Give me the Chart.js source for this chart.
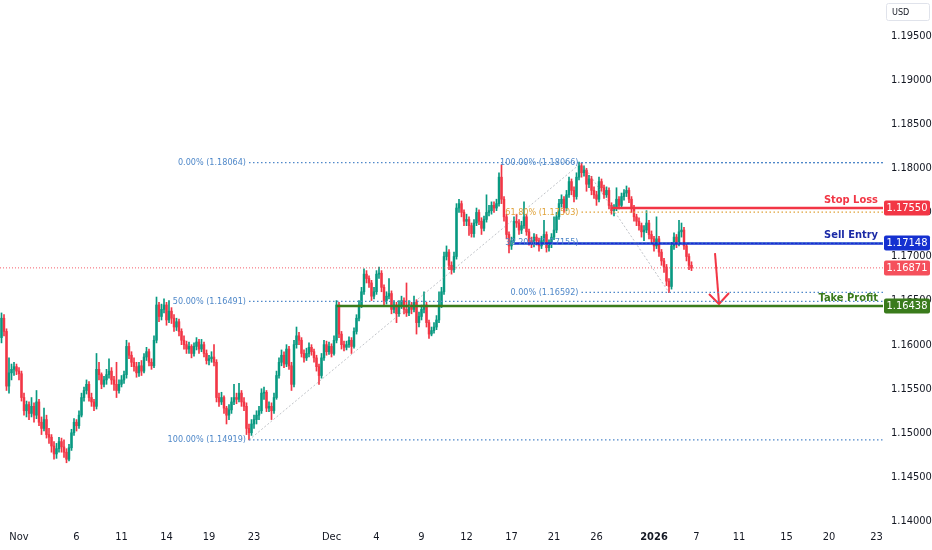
<!DOCTYPE html>
<html>
<head>
<meta charset="utf-8">
<title>EURUSD 4H</title>
<script src="https://cdn.jsdelivr.net/npm/chart.js@4.4.1/dist/chart.umd.min.js"></script>
<style>
  html, body { margin: 0; padding: 0; background: #fff; }
  #wrap { width: 932px; height: 550px; }
</style>
</head>
<body>
<div id="wrap"><canvas id="chart" width="932" height="550"></canvas></div>
<script>
// 4H candles, Nov 3 -> Jan 7
const opens = [
  1.1608,1.1630,1.1615,1.1553,1.1568,1.1572,1.1575,1.1570,1.1567,1.1540,
  1.1525,1.1532,1.1522,1.1530,1.1520,1.1535,1.1512,1.1505,1.1515,1.1498,
  1.1495,1.1485,1.1476,1.1482,1.1490,1.1484,1.1478,1.1470,1.1483,1.1500,
  1.1512,1.1508,1.1520,1.1540,1.1548,1.1555,1.1540,1.1535,1.1530,1.1572,
  1.1566,1.1555,1.1560,1.1566,1.1570,1.1560,1.1555,1.1548,1.1555,1.1560,
  1.1566,1.1598,1.1588,1.1580,1.1575,1.1568,1.1576,1.1570,1.1586,1.1592,
  1.1580,1.1576,1.1605,1.1645,1.1632,1.1640,1.1645,1.1628,1.1638,1.1630,
  1.1620,1.1626,1.1615,1.1605,1.1600,1.1595,1.1598,1.1590,1.1598,1.1603,
  1.1595,1.1600,1.1590,1.1582,1.1584,1.1586,1.1580,1.1540,1.1535,1.1540,
  1.1528,1.1520,1.1526,1.1535,1.1540,1.1538,1.1545,1.1535,1.1530,1.1505,
  1.1500,1.1510,1.1515,1.1520,1.1525,1.1545,1.1546,1.1528,1.1530,1.1525,
  1.1540,1.1565,1.1580,1.1588,1.1578,1.1595,1.1576,1.1555,1.1600,1.1610,
  1.1605,1.1590,1.1585,1.1590,1.1597,1.1592,1.1585,1.1575,1.1565,1.1585,
  1.1600,1.1592,1.1598,1.1590,1.1605,1.1645,1.1612,1.1600,1.1597,1.1600,
  1.1605,1.1598,1.1615,1.1630,1.1645,1.1660,1.1680,1.1675,1.1670,1.1655,
  1.1660,1.1680,1.1681,1.1665,1.1650,1.1655,1.1658,1.1640,1.1645,1.1635,
  1.1645,1.1650,1.1640,1.1636,1.1645,1.1640,1.1648,1.1625,1.1632,1.1640,
  1.1645,1.1625,1.1612,1.1616,1.1620,1.1628,1.1645,1.1660,1.1700,1.1705,
  1.1690,1.1685,1.1700,1.1755,1.1760,1.1750,1.1740,1.1742,1.1735,1.1726,
  1.1738,1.1750,1.1740,1.1732,1.1742,1.1750,1.1752,1.1758,1.1755,1.1760,
  1.1790,1.1765,1.1745,1.1725,1.1712,1.1718,1.1740,1.1738,1.1730,1.1735,
  1.1745,1.1728,1.1718,1.1715,1.1722,1.1718,1.1712,1.1718,1.1725,1.1710,
  1.1714,1.1722,1.1730,1.1745,1.1760,1.1765,1.1755,1.1770,1.1785,1.1775,
  1.1768,1.1790,1.1803,1.1795,1.1798,1.1782,1.1788,1.1775,1.1770,1.1765,
  1.1785,1.1778,1.1770,1.1775,1.1758,1.1752,1.1755,1.1765,1.1758,1.1768,
  1.1772,1.1775,1.1765,1.1755,1.1745,1.1740,1.1735,1.1728,1.1730,1.1738,
  1.1725,1.1720,1.1712,1.1720,1.1705,1.1695,1.1688,1.1672,1.1666,1.1712,
  1.1722,1.1715,1.1728,1.1730,1.1712,1.1700,1.1690
];
const highs = [
  1.1636,1.1634,1.1618,1.1585,1.1578,1.1580,1.1578,1.1574,1.1570,1.1545,
  1.1536,1.1535,1.1540,1.1534,1.1548,1.1538,1.1518,1.1528,1.1520,1.1505,
  1.1498,1.1490,1.1488,1.1495,1.1494,1.1492,1.1482,1.1487,1.1504,1.1516,
  1.1515,1.1525,1.1545,1.1552,1.1560,1.1558,1.1545,1.1538,1.1590,1.1580,
  1.1568,1.1564,1.1572,1.1584,1.1574,1.1564,1.1580,1.1560,1.1565,1.1570,
  1.1605,1.1602,1.1592,1.1585,1.1580,1.1580,1.1582,1.1590,1.1597,1.1595,
  1.1584,1.1610,1.1654,1.1648,1.1646,1.1652,1.1648,1.1650,1.1642,1.1634,
  1.1630,1.1629,1.1618,1.1610,1.1604,1.1603,1.1600,1.1602,1.1608,1.1606,
  1.1606,1.1603,1.1594,1.1588,1.1592,1.1600,1.1583,1.1545,1.1546,1.1542,
  1.1530,1.1532,1.1540,1.1555,1.1545,1.1556,1.1548,1.1540,1.1534,1.1510,
  1.1515,1.1520,1.1525,1.1530,1.1550,1.1552,1.1548,1.1535,1.1534,1.1545,
  1.1570,1.1585,1.1594,1.1592,1.1600,1.1598,1.1580,1.1605,1.1620,1.1614,
  1.1608,1.1594,1.1596,1.1602,1.1600,1.1595,1.1588,1.1578,1.1590,1.1605,
  1.1604,1.1603,1.1601,1.1610,1.1650,1.1648,1.1615,1.1604,1.1604,1.1609,
  1.1608,1.1619,1.1634,1.1650,1.1665,1.1686,1.1684,1.1678,1.1673,1.1665,
  1.1684,1.1688,1.1684,1.1668,1.1660,1.1675,1.1661,1.1650,1.1648,1.1650,
  1.1655,1.1653,1.1670,1.1650,1.1648,1.1655,1.1651,1.1637,1.1645,1.1660,
  1.1648,1.1628,1.1620,1.1625,1.1633,1.1660,1.1665,1.1705,1.1712,1.1708,
  1.1694,1.1705,1.1760,1.1765,1.1763,1.1753,1.1748,1.1745,1.1738,1.1742,
  1.1755,1.1753,1.1744,1.1746,1.1770,1.1758,1.1762,1.1762,1.1765,1.1795,
  1.1804,1.1768,1.1748,1.1728,1.1722,1.1745,1.1748,1.1742,1.1740,1.1762,
  1.1748,1.1731,1.1722,1.1726,1.1725,1.1721,1.1723,1.1741,1.1728,1.1719,
  1.1726,1.1745,1.1750,1.1765,1.1770,1.1768,1.1775,1.1790,1.1788,1.1779,
  1.1795,1.1807,1.1806,1.1803,1.1800,1.1792,1.1791,1.1779,1.1774,1.1790,
  1.1788,1.1781,1.1779,1.1778,1.1761,1.1759,1.1778,1.1768,1.1772,1.1776,
  1.1780,1.1778,1.1768,1.1758,1.1748,1.1744,1.1738,1.1735,1.1752,1.1741,
  1.1729,1.1723,1.1745,1.1723,1.1708,1.1698,1.1691,1.1675,1.1716,1.1727,
  1.1725,1.1741,1.1738,1.1733,1.1715,1.1703,1.1694
];
const lows = [
  1.1602,1.1610,1.1548,1.1545,1.1560,1.1565,1.1566,1.1560,1.1536,1.1520,
  1.1518,1.1515,1.1518,1.1512,1.1516,1.1508,1.1498,1.1502,1.1494,1.1488,
  1.1478,1.1470,1.1471,1.1478,1.1478,1.1472,1.1466,1.1468,1.1480,1.1497,
  1.1502,1.1505,1.1518,1.1536,1.1544,1.1536,1.1530,1.1525,1.1527,1.1560,
  1.1550,1.1552,1.1555,1.1562,1.1555,1.1548,1.1540,1.1545,1.1552,1.1556,
  1.1562,1.1584,1.1575,1.1570,1.1563,1.1564,1.1565,1.1568,1.1582,1.1576,
  1.1572,1.1574,1.1602,1.1626,1.1628,1.1636,1.1622,1.1625,1.1624,1.1615,
  1.1616,1.1610,1.1600,1.1595,1.1590,1.1590,1.1585,1.1587,1.1594,1.1590,
  1.1592,1.1586,1.1578,1.1577,1.1580,1.1576,1.1535,1.1530,1.1532,1.1522,
  1.1510,1.1515,1.1522,1.1532,1.1533,1.1535,1.1530,1.1525,1.1498,1.1492,
  1.1497,1.1505,1.1510,1.1515,1.1522,1.1538,1.1524,1.1524,1.1515,1.1522,
  1.1538,1.1562,1.1576,1.1574,1.1575,1.1572,1.1548,1.1552,1.1596,1.1600,
  1.1586,1.1580,1.1582,1.1586,1.1588,1.1580,1.1570,1.1555,1.1562,1.1582,
  1.1588,1.1589,1.1586,1.1588,1.1602,1.1608,1.1595,1.1593,1.1594,1.1597,
  1.1590,1.1596,1.1612,1.1627,1.1642,1.1657,1.1670,1.1665,1.1650,1.1652,
  1.1657,1.1675,1.1660,1.1645,1.1646,1.1652,1.1635,1.1636,1.1625,1.1632,
  1.1641,1.1635,1.1632,1.1633,1.1635,1.1637,1.1612,1.1620,1.1628,1.1636,
  1.1620,1.1607,1.1610,1.1613,1.1617,1.1625,1.1642,1.1657,1.1696,1.1685,
  1.1680,1.1682,1.1697,1.1750,1.1745,1.1735,1.1735,1.1724,1.1722,1.1722,
  1.1735,1.1736,1.1725,1.1729,1.1739,1.1746,1.1748,1.1750,1.1752,1.1757,
  1.1760,1.1740,1.1720,1.1704,1.1708,1.1715,1.1733,1.1725,1.1726,1.1732,
  1.1724,1.1713,1.1710,1.1711,1.1713,1.1706,1.1709,1.1715,1.1705,1.1706,
  1.1710,1.1719,1.1727,1.1742,1.1756,1.1750,1.1752,1.1767,1.1770,1.1762,
  1.1765,1.1787,1.1790,1.1791,1.1774,1.1778,1.1770,1.1766,1.1758,1.1762,
  1.1774,1.1766,1.1767,1.1754,1.1748,1.1746,1.1752,1.1754,1.1755,1.1764,
  1.1768,1.1761,1.1750,1.1740,1.1735,1.1730,1.1722,1.1718,1.1727,1.1720,
  1.1715,1.1706,1.1709,1.1700,1.1690,1.1682,1.1667,1.1659,1.1663,1.1708,
  1.1710,1.1712,1.1722,1.1708,1.1695,1.1685,1.1684
];
const closes = [
  1.1630,1.1615,1.1553,1.1568,1.1572,1.1575,1.1570,1.1567,1.1540,1.1525,
  1.1532,1.1522,1.1530,1.1520,1.1535,1.1512,1.1505,1.1515,1.1498,1.1495,
  1.1485,1.1476,1.1482,1.1490,1.1484,1.1478,1.1470,1.1483,1.1500,1.1512,
  1.1508,1.1520,1.1540,1.1548,1.1555,1.1540,1.1535,1.1530,1.1572,1.1566,
  1.1555,1.1560,1.1566,1.1570,1.1560,1.1555,1.1548,1.1555,1.1560,1.1566,
  1.1598,1.1588,1.1580,1.1575,1.1568,1.1576,1.1570,1.1586,1.1592,1.1580,
  1.1576,1.1605,1.1645,1.1632,1.1640,1.1645,1.1628,1.1638,1.1630,1.1620,
  1.1626,1.1615,1.1605,1.1600,1.1595,1.1598,1.1590,1.1598,1.1603,1.1595,
  1.1600,1.1590,1.1582,1.1584,1.1586,1.1580,1.1540,1.1535,1.1540,1.1528,
  1.1520,1.1526,1.1535,1.1540,1.1538,1.1545,1.1535,1.1530,1.1505,1.1500,
  1.1510,1.1515,1.1520,1.1525,1.1545,1.1546,1.1528,1.1530,1.1525,1.1540,
  1.1565,1.1580,1.1588,1.1578,1.1595,1.1576,1.1555,1.1600,1.1610,1.1605,
  1.1590,1.1585,1.1590,1.1597,1.1592,1.1585,1.1575,1.1565,1.1585,1.1600,
  1.1592,1.1598,1.1590,1.1605,1.1645,1.1612,1.1600,1.1597,1.1600,1.1605,
  1.1598,1.1615,1.1630,1.1645,1.1660,1.1680,1.1675,1.1670,1.1655,1.1660,
  1.1680,1.1681,1.1665,1.1650,1.1655,1.1658,1.1640,1.1645,1.1635,1.1645,
  1.1650,1.1640,1.1636,1.1645,1.1640,1.1648,1.1625,1.1632,1.1640,1.1645,
  1.1625,1.1612,1.1616,1.1620,1.1628,1.1645,1.1660,1.1700,1.1705,1.1690,
  1.1685,1.1700,1.1755,1.1760,1.1750,1.1740,1.1742,1.1735,1.1726,1.1738,
  1.1750,1.1740,1.1732,1.1742,1.1750,1.1752,1.1758,1.1755,1.1760,1.1790,
  1.1765,1.1745,1.1725,1.1712,1.1718,1.1740,1.1738,1.1730,1.1735,1.1745,
  1.1728,1.1718,1.1715,1.1722,1.1718,1.1712,1.1718,1.1725,1.1710,1.1714,
  1.1722,1.1730,1.1745,1.1760,1.1765,1.1755,1.1770,1.1785,1.1775,1.1768,
  1.1790,1.1803,1.1795,1.1798,1.1782,1.1788,1.1775,1.1770,1.1765,1.1785,
  1.1778,1.1770,1.1775,1.1758,1.1752,1.1755,1.1765,1.1758,1.1768,1.1772,
  1.1775,1.1765,1.1755,1.1745,1.1740,1.1735,1.1728,1.1730,1.1738,1.1725,
  1.1720,1.1712,1.1720,1.1705,1.1695,1.1688,1.1672,1.1666,1.1712,1.1722,
  1.1715,1.1728,1.1730,1.1712,1.1700,1.1690,1.1687
];

// x axis: candle index where each date label sits
const dateTickIdx = [7, 30, 48, 66, 83, 101, 132, 150, 168, 186, 204, 221, 238, 261, 278, 295, 314, 331, 350];
const dateTickLabels = ['Nov', '6', '11', '14', '19', '23', 'Dec', '4', '9', '12', '17', '21', '26', '2026', '7', '11', '15', '20', '23'];
const priceTicks = [1.140, 1.145, 1.150, 1.155, 1.160, 1.165, 1.170, 1.175, 1.180, 1.185, 1.190, 1.195];

// fibonacci drawings
const fib1From = 99;
const fib1Levels = [1.18064, 1.16491, 1.14919];
const fib1Labels = ['0.00% (1.18064)', '50.00% (1.16491)', '100.00% (1.14919)'];
const fib1Trend = [{ x: 99, y: 1.14919 }, { x: 232, y: 1.18064 }];
const fib2From = 232;
const fib2Levels = [1.18066, 1.17503, 1.17155, 1.16592];
const fib2Labels = ['100.00% (1.18066)', '61.80% (1.17503)', '38.20% (1.17155)', '0.00% (1.16592)'];
const fib2Trend = [{ x: 232, y: 1.18066 }, { x: 267, y: 1.16592 }];

// trade plan
const tradeNames = ['Stop Loss', 'Sell Entry', 'Take Profit'];
const tradeLevels = [1.17550, 1.17148, 1.16438];
const tradeFrom = [244, 205, 134];
const lastPrice = 1.16871;
const arrowShaft = [{ x: 285.4, y: 1.17039 }, { x: 287, y: 1.16472 }];
const arrowHead = [{ x: 283, y: 1.16574 }, { x: 287, y: 1.16461 }, { x: 291, y: 1.16586 }];

const X_MIN = -0.6, X_MAX = 352.6;
const Y_MIN = 1.1392, Y_MAX = 1.1991;

const FONT = "'Liberation Sans Narrow', 'DejaVu Sans Condensed', 'Roboto', sans-serif";
const UP = '#089981', DOWN = '#f23645';
const FIB_BLUE = '#4f88c9', FIB_ORANGE = '#e0a33a';
const tradeColors = ['#f23645', '#1530d0', '#3a7b1c'];
const tradeText = ['#f23645', '#1b2aa6', '#3a7b1c'];

const idx = closes.map((_, i) => i);
const candleColors = idx.map(i => closes[i] >= opens[i] ? UP : DOWN);

function hline(y, from, color, width, dash) {
    return {
        type: 'line',
        data: [{ x: from, y: y }, { x: X_MAX, y: y }],
        borderColor: color,
        borderWidth: width,
        borderDash: dash || [],
        pointRadius: 0,
        tension: 0,
        order: 0
    };
}

function path(points, color, width, dash) {
    return {
        type: 'line',
        data: points,
        borderColor: color,
        borderWidth: width,
        borderDash: dash || [],
        pointRadius: 0,
        tension: 0,
        order: 0
    };
}

const levelSets = [];
fib1Levels.forEach(l => levelSets.push(hline(l, fib1From, FIB_BLUE, 1.2, [1.5, 2.5])));
fib2Levels.forEach((l, i) => levelSets.push(hline(l, fib2From, i === 1 ? FIB_ORANGE : FIB_BLUE, 1.2, [1.5, 2.5])));
levelSets.push(path(fib1Trend, 'rgba(140,145,155,0.55)', 1, [2, 2]));
levelSets.push(path(fib2Trend, 'rgba(140,145,155,0.55)', 1, [2, 2]));
levelSets.push(hline(lastPrice, X_MIN, 'rgba(242,54,69,0.8)', 1, [1, 2]));
tradeLevels.forEach((l, i) => levelSets.push(hline(l, tradeFrom[i], tradeColors[i], 2.5)));
levelSets.push(path(arrowShaft, DOWN, 2));
levelSets.push(path(arrowHead, DOWN, 2));

// Text, price tags and the currency box
const overlay = {
    id: 'overlay',
    afterDraw(chart) {
        const ctx = chart.ctx;
        const xs = chart.scales.x, ys = chart.scales.y;
        const area = chart.chartArea;
        ctx.save();

        ctx.textBaseline = 'middle';
        ctx.textAlign = 'right';
        ctx.font = '9px ' + FONT;
        fib1Levels.forEach((l, i) => {
            ctx.fillStyle = FIB_BLUE;
            ctx.fillText(fib1Labels[i], xs.getPixelForValue(fib1From) - 3, ys.getPixelForValue(l));
        });
        fib2Levels.forEach((l, i) => {
            ctx.fillStyle = i === 1 ? FIB_ORANGE : FIB_BLUE;
            ctx.fillText(fib2Labels[i], xs.getPixelForValue(fib2From) - 3, ys.getPixelForValue(l));
        });

        ctx.font = 'bold 11px ' + FONT;
        ctx.textBaseline = 'alphabetic';
        tradeLevels.forEach((l, i) => {
            ctx.fillStyle = tradeText[i];
            ctx.fillText(tradeNames[i], area.right - 5, ys.getPixelForValue(l) - 5);
        });

        // price tags on the axis
        const tag = (value, color) => {
            const y = Math.round(ys.getPixelForValue(value));
            ctx.fillStyle = color;
            ctx.beginPath();
            ctx.roundRect(area.right + 1, y - 7.5, 46, 15, 2);
            ctx.fill();
            ctx.fillStyle = '#fff';
            ctx.font = '11px ' + FONT;
            ctx.textAlign = 'center';
            ctx.textBaseline = 'middle';
            ctx.fillText(value.toFixed(5), area.right + 24, y + 0.5);
        };
        tag(lastPrice, '#f5505c');
        tradeLevels.forEach((l, i) => tag(l, tradeColors[i]));

        // currency label
        ctx.fillStyle = '#fff';
        ctx.strokeStyle = '#e0e3eb';
        ctx.lineWidth = 1;
        ctx.beginPath();
        ctx.roundRect(area.right + 3.5, 3.5, 43, 17, 2);
        ctx.fill();
        ctx.stroke();
        ctx.fillStyle = '#131722';
        ctx.font = '9px ' + FONT;
        ctx.textAlign = 'left';
        ctx.textBaseline = 'middle';
        ctx.fillText('USD', area.right + 9, 12.5);
        ctx.restore();
    }
};

new Chart(document.getElementById('chart'), {
    type: 'bar',
    data: {
        datasets: [
            {
                label: 'wicks',
                data: idx.map(i => ({ x: i, y: [lows[i], highs[i]] })),
                backgroundColor: candleColors,
                barThickness: 1,
                grouped: false,
                order: 2
            },
            {
                label: 'bodies',
                data: idx.map(i => ({ x: i, y: [opens[i], closes[i]] })),
                backgroundColor: candleColors,
                barThickness: 1.8,
                minBarLength: 1,
                grouped: false,
                order: 1
            },
            ...levelSets
        ]
    },
    options: {
        responsive: false,
        animation: false,
        layout: { padding: 0 },
        plugins: {
            legend: { display: false },
            tooltip: { enabled: false }
        },
        scales: {
            x: {
                type: 'linear',
                min: X_MIN,
                max: X_MAX,
                offset: false,
                grid: { display: false, drawTicks: false },
                border: { display: false },
                afterBuildTicks: s => { s.ticks = dateTickIdx.map(v => ({ value: v })); },
                afterFit: s => {
                    s.height = 22;
                    s.paddingLeft = 0;
                    s.paddingRight = 0;
                },
                ticks: {
                    autoSkip: false,
                    maxRotation: 0,
                    padding: 3,
                    color: '#131722',
                    font: c => ({ family: FONT, size: 11, weight: (c.tick && c.tick.value === 261) ? 'bold' : 'normal' }),
                    callback: v => dateTickLabels[dateTickIdx.indexOf(v)]
                }
            },
            y: {
                type: 'linear',
                position: 'right',
                min: Y_MIN,
                max: Y_MAX,
                grid: { display: false, drawTicks: false },
                border: { display: false },
                afterBuildTicks: s => { s.ticks = priceTicks.map(v => ({ value: v })); },
                afterFit: s => {
                    s.width = 49;
                    s.paddingTop = 0;
                    s.paddingBottom = 0;
                },
                ticks: {
                    padding: 8,
                    color: '#131722',
                    font: { family: FONT, size: 11 },
                    callback: v => v.toFixed(5)
                }
            }
        }
    },
    plugins: [overlay]
});
</script>
</body>
</html>
